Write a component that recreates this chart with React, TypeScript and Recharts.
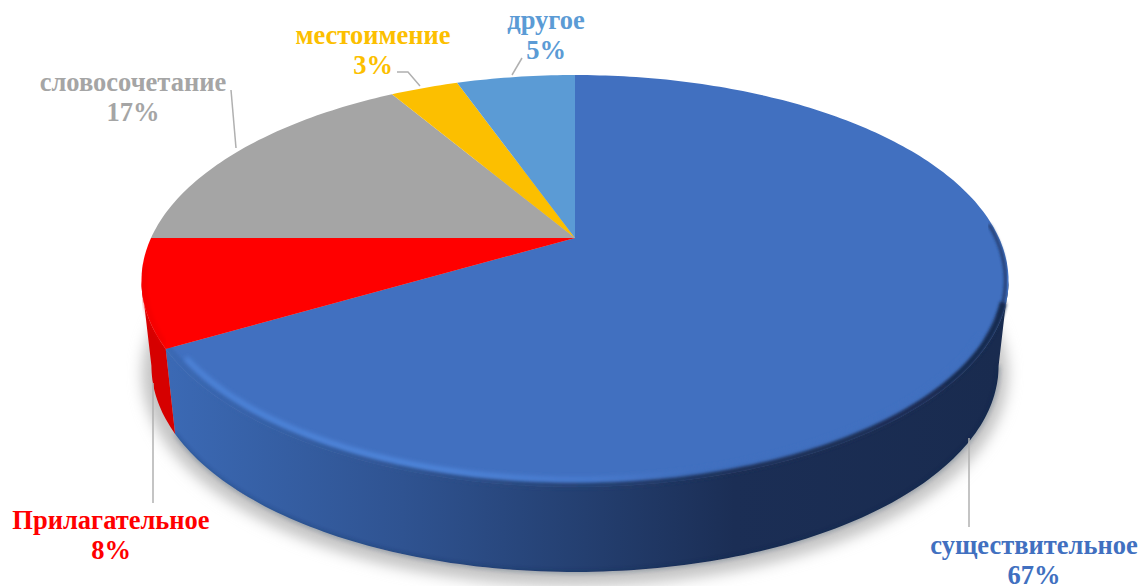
import React from 'react';
import { PieChart, Pie, Cell } from 'recharts';

const categories = ['существительное', 'Прилагательное', 'словосочетание', 'местоимение', 'другое'];
const shares = [66.6, 8.4, 16.5, 3.1, 5.4];
const colors = ['#4170c0', '#ff0000', '#a5a5a5', '#fcbf00', '#5b9bd5'];

const data = categories.map((name, i) => ({ name, value: shares[i] }));

// hand placed, the reference uses manual label positions
const labelPos = [
  { x: 1034, y: 554 },
  { x: 111, y: 529 },
  { x: 133, y: 91 },
  { x: 373, y: 44 },
  { x: 546, y: 29 },
];
const leaders = [
  '969,438 969,527',
  '153,383 153,503',
  '231,90 236,148',
  '397,72 408,72 420,86',
  '522,58 512,75',
];

const CX = 575;
const CY = 238;
const RADIUS = 424;
const TILT = 0.4646;
const PERSPECTIVE = 0.2087;
const FRONT_START = 102;
const FRONT_END = 258;

// theta is measured clockwise from the top of the disc
const project = (theta: number, scale = 1) => {
  const t = (theta * Math.PI) / 180;
  const sx = Math.sin(t) * scale;
  const sy = Math.cos(t) * scale;
  const d = 1 + PERSPECTIVE * sy;
  return { x: CX + (RADIUS * sx) / d, y: CY - (RADIUS * TILT * sy) / d };
};

const projectBottom = (theta: number) => {
  const p = project(theta);
  return { x: CX + 0.977 * (p.x - CX), y: p.y + 85 };
};

const arc = (from: number, to: number, fn: (t: number) => { x: number; y: number }) => {
  const pts = [];
  const steps = Math.max(2, Math.ceil(Math.abs(to - from)));
  for (let i = 0; i <= steps; i++) {
    const p = fn(from + ((to - from) * i) / steps);
    pts.push(`${p.x.toFixed(1)} ${p.y.toFixed(1)}`);
  }
  return pts;
};

const ExtrudedSector = (props: any) => {
  const { startAngle, endAngle, fill, name } = props;
  const from = 90 - startAngle;
  const to = 90 - endAngle;
  const wallFrom = Math.max(from, FRONT_START);
  const wallTo = Math.min(to, FRONT_END);
  const hasWall = wallTo > wallFrom;
  const isMain = name === categories[0];
  const isRed = name === categories[1];

  const top = `M${CX} ${CY} L${arc(from, to, (t) => project(t)).join(' L')} Z`;
  const wall = hasWall
    ? `M${arc(wallFrom, wallTo, (t) => project(t)).join(' L')} L${arc(wallTo, wallFrom, projectBottom).join(' L')} Z`
    : '';

  return (
    <g>
      {isMain && <ellipse cx={CX} cy={374} rx={433} ry={212} fill="#c4c4c4" filter="url(#softShadow)" />}
      {hasWall && <path d={wall} fill={isMain ? 'url(#wallBlue)' : '#d60000'} />}
      {isMain && (
        <path
          d={`M${arc(wallFrom, wallTo, projectBottom).join(' L')}`}
          fill="none"
          stroke="#14264a"
          strokeWidth={1.5}
          opacity={0.6}
          filter="url(#rimBlur)"
        />
      )}
      <path d={top} fill={fill} />
      {isMain && (
        <g>
          {/* bevel: the wall colour creeps over the edge of the face, then a soft highlight */}
          <path
            d={`M${arc(86, 112, (t) => project(t, 0.993)).join(' L')}`}
            fill="none"
            stroke="#1d3360"
            strokeWidth={2.5}
            filter="url(#edgeBlur)"
          />
          <path
            d={`M${arc(108, 240, (t) => project(t, 0.994)).join(' L')}`}
            fill="none"
            stroke="url(#wallBlue)"
            strokeWidth={7}
            filter="url(#edgeBlur)"
          />
          <path
            d={`M${arc(118, 236, (t) => project(t, 0.977)).join(' L')}`}
            fill="none"
            stroke="url(#rimBlue)"
            strokeWidth={5}
            strokeLinecap="round"
            filter="url(#rimBlur)"
          />
        </g>
      )}
      {isRed && (
        <path
          d={`M${arc(241, 262, (t) => project(t, 0.995)).join(' L')}`}
          fill="none"
          stroke="#ee0000"
          strokeWidth={3}
          filter="url(#rimBlur)"
        />
      )}
    </g>
  );
};

const renderLabel = (props: any) => {
  const { index, name, value } = props;
  const pos = labelPos[index];
  return (
    <text
      key={name}
      textAnchor="middle"
      fill={colors[index]}
      fontFamily="'Liberation Serif', serif"
      fontWeight={700}
      fontSize={26.5}
    >
      <tspan x={pos.x} y={pos.y}>{name}</tspan>
      <tspan x={pos.x} y={pos.y + 30}>{`${Math.round(value)}%`}</tspan>
    </text>
  );
};

const renderLeader = (props: any) => (
  <polyline
    key={`leader-${props.index}`}
    points={leaders[props.index]}
    fill="none"
    stroke="#b0b0b0"
    strokeWidth={1.5}
  />
);

export default function App() {
  return (
    <div style={{ position: 'absolute', left: 0, top: 0, width: 1141, height: 586, overflow: 'hidden', background: '#fff' }}>
      <PieChart width={1141} height={586} margin={{ top: 0, right: 0, bottom: 0, left: 0 }}>
        <defs>
          <linearGradient id="wallBlue" gradientUnits="userSpaceOnUse" x1={170} y1={0} x2={1000} y2={0}>
            <stop offset="0" stopColor="#3b69b4" />
            <stop offset="0.28" stopColor="#2f5391" />
            <stop offset="0.5" stopColor="#243f70" />
            <stop offset="0.68" stopColor="#1b2e55" />
            <stop offset="1" stopColor="#192b4f" />
          </linearGradient>
          <linearGradient id="rimBlue" gradientUnits="userSpaceOnUse" x1={170} y1={0} x2={1010} y2={0}>
            <stop offset="0" stopColor="#4d83d8" />
            <stop offset="0.3" stopColor="#5088de" />
            <stop offset="0.5" stopColor="#4a7cd0" />
            <stop offset="0.62" stopColor="#4170c0" />
            <stop offset="1" stopColor="#4170c0" />
          </linearGradient>
          <filter id="softShadow" x="-10%" y="-10%" width="120%" height="120%">
            <feGaussianBlur stdDeviation="7" />
          </filter>
          <filter id="rimBlur" x="-5%" y="-5%" width="110%" height="110%">
            <feGaussianBlur stdDeviation="2" />
          </filter>
          <filter id="edgeBlur" x="-5%" y="-5%" width="110%" height="110%">
            <feGaussianBlur stdDeviation="1.5" />
          </filter>
        </defs>
        <Pie
          data={data}
          dataKey="value"
          nameKey="name"
          cx={CX}
          cy={CY}
          outerRadius={RADIUS}
          startAngle={90}
          endAngle={-270}
          stroke="none"
          shape={ExtrudedSector}
          label={renderLabel}
          labelLine={renderLeader}
          isAnimationActive={false}
        >
          {categories.map((name, i) => (
            <Cell key={name} fill={colors[i]} />
          ))}
        </Pie>
      </PieChart>
    </div>
  );
}
